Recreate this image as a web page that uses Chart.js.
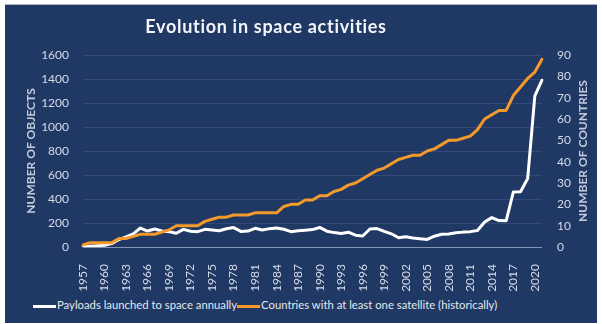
<!DOCTYPE html>
<html>
<head>
<meta charset="utf-8">
<title>Evolution in space activities</title>
<script src="https://cdn.jsdelivr.net/npm/chart.js@4.4.1/dist/chart.umd.min.js"></script>
<style>
    body {
        margin: 0;
        background: #ffffff;
    }
    #panel {
        position: absolute;
        left: 5px;
        top: 4px;
        width: 592px;
        height: 318px;
        background: #1f3864;
        border-top: 1px solid #aab3c6;
        font-family: Lato, "Open Sans", sans-serif;
    }
    #chartWrap {
        position: absolute;
        left: 0;
        top: 0;
        width: 592px;
        height: 292px;
    }
    #legend {
        position: absolute;
        left: 28px;
        top: 293px;
        font-size: 11.3px;
        line-height: 14px;
        color: #e4e8f0;
        white-space: nowrap;
    }
    .legend-item {
        display: inline-block;
    }
    .legend-swatch {
        display: inline-block;
        width: 23px;
        height: 3px;
        vertical-align: middle;
        margin-right: 1px;
    }
</style>
</head>
<body>
<div id="panel">
    <div id="chartWrap"><canvas id="spaceChart"></canvas></div>
    <div id="legend"></div>
</div>
<script>
const years = [
    '1957', '1958', '1959', '1960', '1961', '1962', '1963', '1964', '1965', '1966',
    '1967', '1968', '1969', '1970', '1971', '1972', '1973', '1974', '1975', '1976',
    '1977', '1978', '1979', '1980', '1981', '1982', '1983', '1984', '1985', '1986',
    '1987', '1988', '1989', '1990', '1991', '1992', '1993', '1994', '1995', '1996',
    '1997', '1998', '1999', '2000', '2001', '2002', '2003', '2004', '2005', '2006',
    '2007', '2008', '2009', '2010', '2011', '2012', '2013', '2014', '2015', '2016',
    '2017', '2018', '2019', '2020', '2021'
];

// only every third year gets a label on the x axis
const yearTicks = [
    '1957', '1960', '1963', '1966', '1969', '1972', '1975', '1978', '1981', '1984', '1987',
    '1990', '1993', '1996', '1999', '2002', '2005', '2008', '2011', '2014', '2017', '2020'
];

const payloads = [
    3, 6, 10, 15, 28, 62, 85, 110, 158, 133,
    150, 133, 128, 115, 147, 131, 128, 147, 142, 135,
    152, 162, 130, 133, 156, 142, 153, 158, 148, 128,
    136, 140, 145, 163, 132, 120, 112, 123, 98, 92,
    150, 154, 130, 110, 77, 86, 75, 68, 63, 90,
    106, 108, 118, 124, 128, 137, 208, 245, 220, 218,
    458, 460, 570, 1260, 1390
];

const countries = [
    1, 2, 2, 2, 2, 4, 4, 5, 6, 6,
    6, 7, 8, 10, 10, 10, 10, 12, 13, 14,
    14, 15, 15, 15, 16, 16, 16, 16, 19, 20,
    20, 22, 22, 24, 24, 26, 27, 29, 30, 32,
    34, 36, 37, 39, 41, 42, 43, 43, 45, 46,
    48, 50, 50, 51, 52, 55, 60, 62, 64, 64,
    71, 75, 79, 82, 88
];

const objectTicks = [0, 200, 400, 600, 800, 1000, 1200, 1400, 1600];
const countryTicks = [0, 10, 20, 30, 40, 50, 60, 70, 80, 90];

const tickColor = '#d6dbe7';
const titleColor = '#c3cbdd';
const fontFamily = 'Lato, "Open Sans", sans-serif';

const datasets = [
    {
        label: 'Payloads launched to space annually',
        data: payloads,
        borderColor: '#ffffff',
        backgroundColor: '#ffffff',
        yAxisID: 'y',
        order: 1
    },
    {
        label: 'Countries with at least one satellite (historically)',
        data: countries,
        borderColor: '#f39a2b',
        backgroundColor: '#f39a2b',
        yAxisID: 'y1',
        order: 0
    }
];

// chart title sits left of centre, and the right axis title reads
// bottom-to-top like the left one, so both are drawn here
const extraText = {
    id: 'extraText',
    afterDraw(chart) {
        const ctx = chart.ctx;
        const area = chart.chartArea;
        ctx.save();
        ctx.textAlign = 'center';

        ctx.textBaseline = 'alphabetic';
        ctx.font = 'bold 18px ' + fontFamily;
        ctx.letterSpacing = '0.7px';
        ctx.fillStyle = '#f4f5f8';
        ctx.fillText('Evolution in space activities', 261, 28);
        ctx.letterSpacing = '0px';

        ctx.textBaseline = 'middle';
        ctx.translate(578, (area.top + area.bottom) / 2);
        ctx.rotate(-Math.PI / 2);
        ctx.font = 'bold 12px ' + fontFamily;
        ctx.fillStyle = titleColor;
        ctx.fillText('NUMBER OF COUNTRIES', 0, 0);
        ctx.restore();
    }
};

const spaceChart = new Chart(document.getElementById('spaceChart'), {
    type: 'line',
    data: { labels: years, datasets: datasets },
    plugins: [extraText],
    options: {
        responsive: true,
        maintainAspectRatio: false,
        animation: false,
        layout: { padding: { top: 50 } },
        elements: {
            line: {
                borderWidth: 3,
                tension: 0,
                borderJoinStyle: 'round',
                borderCapStyle: 'round'
            },
            point: { radius: 0 }
        },
        plugins: {
            legend: { display: false },
            tooltip: { enabled: false },
            title: { display: false }
        },
        scales: {
            x: {
                offset: false,
                afterFit(scale) { scale.height = 50; },
                grid: { display: false },
                border: { display: false },
                ticks: {
                    autoSkip: false,
                    maxRotation: 90,
                    minRotation: 90,
                    padding: 9,
                    color: tickColor,
                    font: { family: fontFamily, size: 12 },
                    callback(value) {
                        const label = this.getLabelForValue(value);
                        return yearTicks.includes(label) ? label : '';
                    }
                }
            },
            y: {
                position: 'left',
                min: objectTicks[0],
                max: objectTicks[objectTicks.length - 1],
                afterFit(scale) { scale.width = 78; },
                afterBuildTicks(scale) {
                    scale.ticks = objectTicks.map(v => ({ value: v }));
                },
                border: { display: false },
                grid: {
                    drawTicks: false,
                    lineWidth: 1,
                    color: ctx => ctx.tick && ctx.tick.value === 0 ? '#8593b5' : '#34497a'
                },
                ticks: {
                    padding: 14,
                    color: tickColor,
                    font: { family: fontFamily, size: 12 },
                    callback: value => String(value)
                },
                title: {
                    display: true,
                    text: 'NUMBER OF OBJECTS',
                    color: titleColor,
                    font: { family: fontFamily, size: 12, weight: 'bold' },
                    padding: { top: 19, bottom: 0 }
                }
            },
            y1: {
                position: 'right',
                min: countryTicks[0],
                max: countryTicks[countryTicks.length - 1],
                afterFit(scale) { scale.width = 55; },
                afterBuildTicks(scale) {
                    scale.ticks = countryTicks.map(v => ({ value: v }));
                },
                border: { display: false },
                grid: { drawOnChartArea: false, drawTicks: false },
                ticks: {
                    padding: 15,
                    color: tickColor,
                    font: { family: fontFamily, size: 12 },
                    callback: value => String(value)
                }
            }
        }
    }
});

// legend sits under the canvas, built from the datasets
const legendBox = document.getElementById('legend');
datasets.forEach(ds => {
    const item = document.createElement('span');
    item.className = 'legend-item';
    const swatch = document.createElement('span');
    swatch.className = 'legend-swatch';
    swatch.style.background = ds.borderColor;
    item.appendChild(swatch);
    item.appendChild(document.createTextNode(ds.label));
    legendBox.appendChild(item);
});
</script>
</body>
</html>
